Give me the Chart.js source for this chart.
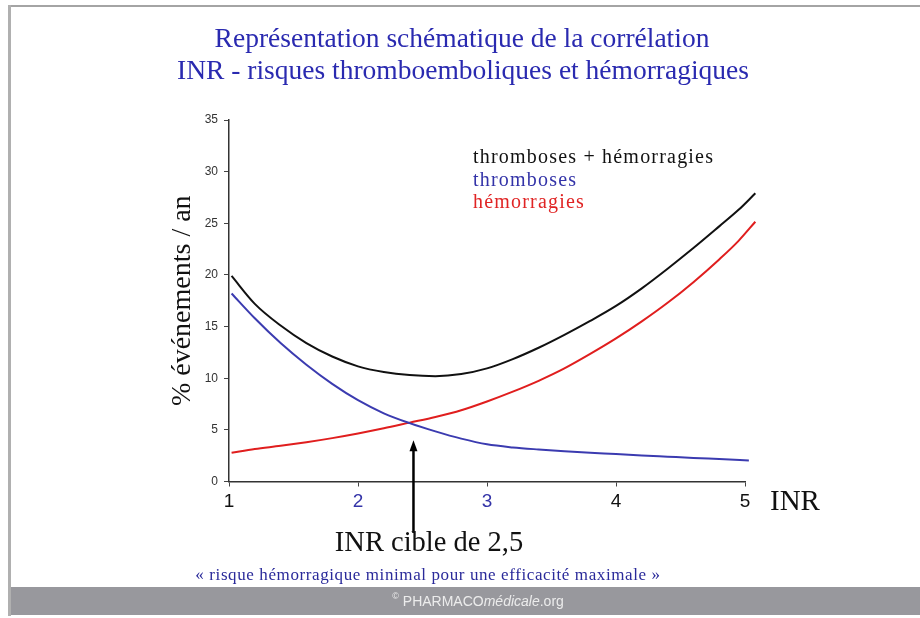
<!DOCTYPE html>
<html>
<head>
<meta charset="utf-8">
<script src="https://cdn.jsdelivr.net/npm/chart.js@4.4.1/dist/chart.umd.min.js"></script>
<style>
html,body{margin:0;padding:0;background:#fff;}
#wrap{width:920px;height:618px;position:relative;}
</style>
</head>
<body>
<div id="wrap"><canvas id="c" width="920" height="618"></canvas></div>
<script>
// ---- data ----
const inr = [1.02,1.2,1.4,1.6,1.8,2.0,2.2,2.4,2.6,2.8,3.0,3.2,3.4,3.6,3.8,4.0,4.2,4.4,4.6,4.8,4.95,5.08];
const totalRisk = [19.9,17.2,15.1,13.4,12.1,11.15,10.6,10.3,10.2,10.4,10.95,11.85,12.95,14.2,15.55,17.0,18.7,20.6,22.6,24.7,26.3,27.9];
const hemorrhages = [2.78,3.15,3.45,3.8,4.2,4.65,5.15,5.7,6.25,6.9,7.75,8.7,9.75,10.95,12.35,13.85,15.5,17.3,19.3,21.5,23.3,25.15];
const inrThrombo = [1.02,1.2,1.4,1.6,1.8,2.0,2.2,2.4,2.6,2.8,3.0,3.2,3.4,3.6,3.8,4.0,4.2,4.4,4.6,4.8,5.03];
const thromboses = [18.2,15.8,13.4,11.3,9.45,7.87,6.6,5.65,4.85,4.15,3.6,3.3,3.1,2.93,2.78,2.66,2.52,2.4,2.28,2.17,2.04];
const seriesNames = ['thromboses + hémorragies','thromboses','hémorragies'];
const xTicks = [1,2,3,4,5];
const highlightedTicks = [2,3];
const yTicks = [0,5,10,15,20,25,30,35];
const arrowINR = 2.43;      // where the arrow is drawn
const arrowTipValue = 4.0;  // % level of the arrow tip
const titleLines = ['Représentation schématique de la corrélation','INR - risques thromboemboliques et hémorragiques'];
const yTitle = '% événements / an';
const xUnit = 'INR';
const targetLabel = 'INR cible de 2,5';
const targetNote = '« risque hémorragique minimal pour une efficacité maximale »';

const pts = (xs, ys) => xs.map((x,i)=>({x:x, y:ys[i]}));
const SERIF = '"Liberation Serif","Times New Roman",serif';
const SANS = '"Liberation Sans",Arial,sans-serif';
const BLUE_T = '#2a2ab0';
const colors = ['#111111','#3333a8','#e02424'];

const decor = {
  id:'decor',
  beforeDraw(chart){
    const ctx = chart.ctx;
    ctx.save();
    ctx.fillStyle = '#fff';
    ctx.fillRect(0,0,chart.width,chart.height);
    // frame
    ctx.fillStyle = '#a4a4a4';
    ctx.fillRect(8,5,912,2);
    ctx.fillStyle = '#b0b0b0';
    ctx.fillRect(8,5,3,611);
    // footer band
    ctx.fillStyle = '#98989d';
    ctx.fillRect(11,587,909,28);
    ctx.restore();
  },
  afterDraw(chart){
    const ctx = chart.ctx;
    const xs = chart.scales.x, ys = chart.scales.y;
    ctx.save();
    ctx.textBaseline = 'middle';
    // title
    ctx.fillStyle = BLUE_T;
    ctx.textAlign = 'center';
    ctx.font = '27.5px ' + SERIF;
    ctx.fillText(titleLines[0], 462, 40);
    ctx.fillText(titleLines[1], 463, 72);
    // legend texts
    ctx.textAlign = 'left';
    ctx.font = '20px ' + SERIF;
    ctx.letterSpacing = '1.2px';
    const ly = [158,181,203];
    seriesNames.forEach((n,i)=>{ ctx.fillStyle = colors[i]; ctx.fillText(n, 473, ly[i]); });
    ctx.letterSpacing = '0px';
    // x unit
    ctx.fillStyle = '#111';
    ctx.font = '29px ' + SERIF;
    ctx.fillText(xUnit, 770, 502);
    // arrow
    const ax = xs.getPixelForValue(arrowINR);
    const tipY = ys.getPixelForValue(arrowTipValue);
    ctx.strokeStyle = '#000';
    ctx.lineWidth = 2.5;
    ctx.beginPath(); ctx.moveTo(ax, 533); ctx.lineTo(ax, tipY + 8); ctx.stroke();
    ctx.fillStyle = '#000';
    ctx.beginPath(); ctx.moveTo(ax, tipY); ctx.lineTo(ax-4, tipY+11); ctx.lineTo(ax+4, tipY+11); ctx.closePath(); ctx.fill();
    // target labels
    ctx.textAlign = 'center';
    ctx.fillStyle = '#111';
    ctx.font = '28.5px ' + SERIF;
    ctx.fillText(targetLabel, 429, 544);
    ctx.fillStyle = '#2a2a9a';
    ctx.font = '17px ' + SERIF;
    ctx.letterSpacing = '0.6px';
    ctx.fillText(targetNote, 428, 576);
    ctx.letterSpacing = '0px';
    // footer text
    const parts = [['PHARMACO','14px '+SANS],['médicale','italic 14px '+SANS],['.org','14px '+SANS]];
    let total = 0;
    parts.forEach(p=>{ ctx.font = p[1]; total += ctx.measureText(p[0]).width; });
    ctx.font = '9px ' + SANS;
    const cw = ctx.measureText('©').width + 4;
    let x = 478 - (total + cw)/2;
    ctx.fillStyle = '#ececec';
    ctx.textAlign = 'left';
    ctx.fillText('©', x, 597);
    x += cw;
    parts.forEach(p=>{ ctx.font = p[1]; ctx.fillText(p[0], x, 602); x += ctx.measureText(p[0]).width; });
    ctx.restore();
  }
};

new Chart(document.getElementById('c'), {
  type:'line',
  data:{
    datasets:[
      {label:seriesNames[0], data:pts(inr,totalRisk), borderColor:colors[0]},
      {label:seriesNames[1], data:pts(inrThrombo,thromboses), borderColor:'#3b3bb0'},
      {label:seriesNames[2], data:pts(inr,hemorrhages), borderColor:'#e01e1e'}
    ]
  },
  options:{
    responsive:false,
    animation:false,
    events:[],
    clip:false,
    layout:{padding:{left:166,right:175,top:120,bottom:96.5}},
    elements:{
      point:{radius:0},
      line:{borderWidth:2,cubicInterpolationMode:'monotone',fill:false}
    },
    plugins:{legend:{display:false},title:{display:false},tooltip:{enabled:false}},
    scales:{
      x:{
        type:'linear', min:xTicks[0], max:xTicks[xTicks.length-1],
        afterFit(s){ s.height = 40; },
        afterBuildTicks(s){ s.ticks = xTicks.map(v=>({value:v})); },
        grid:{drawOnChartArea:false, drawTicks:true, tickLength:5, color:'#444'},
        border:{display:true,color:'#333',width:1.5},
        ticks:{
          padding:4,
          font:{family:SANS,size:19},
          color:(c)=> highlightedTicks.includes(c.tick.value) ? '#3434a8' : '#111',
          callback:(v)=>String(v)
        }
      },
      y:{
        type:'linear', min:yTicks[0], max:yTicks[yTicks.length-1],
        afterFit(s){ s.width = 63; },
        afterBuildTicks(s){ s.ticks = yTicks.map(v=>({value:v})); },
        grid:{drawOnChartArea:false, drawTicks:true, tickLength:5, color:'#444'},
        border:{display:true,color:'#333',width:1.5},
        ticks:{padding:6, font:{family:SANS,size:12}, color:'#333'},
        title:{display:true, text:yTitle, color:'#111', font:{family:SERIF,size:28}, padding:{top:0,bottom:0}}
      }
    }
  },
  plugins:[decor]
});
</script>
</body>
</html>
